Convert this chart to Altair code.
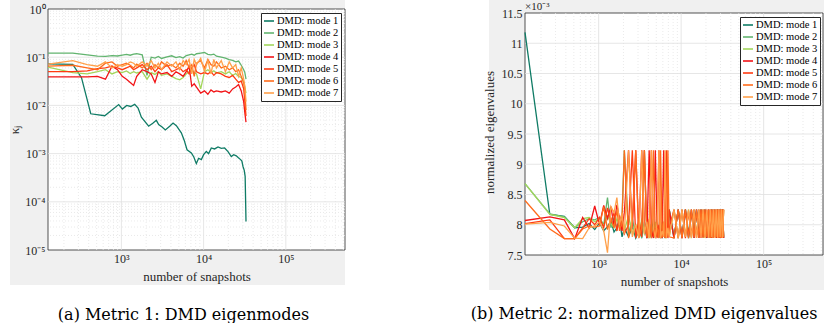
import altair as alt
import pandas as pd

SERIES = ["DMD: mode 1", "DMD: mode 2", "DMD: mode 3", "DMD: mode 4",
          "DMD: mode 5", "DMD: mode 6", "DMD: mode 7"]
COLORS = ["#0f7b65", "#62b46f", "#a3d65c", "#f21417", "#ff3b12", "#ff6c1c", "#ffa04a"]

X_TICKS = [1000, 10000, 100000]

# ---------------- Metric 1 (left) ----------------
mode1_left_x = [128, 256, 327, 424, 627, 927, 1028, 1160, 1297, 1451, 1595, 1750, 2146, 2429,
                2662, 2838, 3100, 3425, 3865, 4250, 4660, 5357, 5800, 6284, 7090, 7600, 8150,
                8700, 9380, 10000, 10790, 11500, 12400, 13600, 14970, 16400, 18000, 19800,
                21700, 23200, 24950, 26500, 28170, 29200, 30130, 31200, 32000, 32768]
mode1_left_y = [0.073, 0.071, 0.0376, 0.0067, 0.0061, 0.0104, 0.0084, 0.0100, 0.0095, 0.0105,
                0.0088, 0.0057, 0.0037, 0.0043, 0.0049, 0.0040, 0.0036, 0.0031, 0.0037, 0.0043,
                0.0038, 0.0027, 0.0019, 0.0012, 0.00103, 0.00085, 0.00062, 0.00080, 0.00075,
                0.00095, 0.00111, 0.00100, 0.00131, 0.00125, 0.00137, 0.00128, 0.00131, 0.0011,
                0.00087, 0.00095, 0.0009, 0.00082, 0.00075, 0.0007, 0.00054, 0.00045, 0.000337,
                0.0000392]

left_x = [128, 256, 384, 512, 640, 768, 896, 1024, 1152, 1280, 1408, 1536,
          1792, 2048, 2304, 2560, 2816, 3072,
          3584, 4096, 4608, 5120, 5632, 6144, 6656, 7168, 7680, 8192,
          9216, 10240, 11264, 12288, 13312, 14336,
          16384, 18432, 20480, 22528, 24576, 26624, 28672,
          30720, 31744, 32768]
mode2_left = [0.122, 0.122, 0.112, 0.105, 0.104, 0.108, 0.106, 0.110, 0.114, 0.110, 0.116, 0.118,
              0.112, 0.042, 0.100, 0.096, 0.104, 0.094,
              0.102, 0.107, 0.098, 0.103, 0.096, 0.108, 0.112, 0.116, 0.110, 0.118,
              0.122, 0.125, 0.115, 0.112, 0.116, 0.105,
              0.100, 0.096, 0.089, 0.086, 0.080, 0.083, 0.068,
              0.055, 0.048, 0.035]
mode3_left = [0.062, 0.048, 0.045, 0.050, 0.055, 0.045, 0.050, 0.048, 0.052, 0.046, 0.050, 0.047,
              0.050, 0.035, 0.048, 0.044, 0.050, 0.042,
              0.045, 0.040, 0.036, 0.034, 0.038, 0.045, 0.050, 0.055, 0.048, 0.045,
              0.022, 0.050, 0.055, 0.048, 0.052, 0.047,
              0.050, 0.045, 0.050, 0.042, 0.046, 0.040, 0.038,
              0.030, 0.024, 0.018]
mode4_left = [0.039, 0.039, 0.039, 0.040, 0.035, 0.065, 0.055, 0.040, 0.035, 0.030, 0.026, 0.040,
              0.055, 0.050, 0.045, 0.030, 0.050, 0.045,
              0.048, 0.040, 0.050, 0.045, 0.040, 0.050, 0.065, 0.025, 0.028, 0.024,
              0.018, 0.020, 0.017, 0.021, 0.019, 0.020,
              0.019, 0.020, 0.018, 0.022, 0.024, 0.027, 0.020,
              0.012, 0.007, 0.0045]
mode5_left = [0.050, 0.050, 0.052, 0.058, 0.060, 0.065, 0.060, 0.055, 0.060, 0.065, 0.055, 0.060,
              0.070, 0.055, 0.065, 0.050, 0.060, 0.055,
              0.070, 0.050, 0.055, 0.060, 0.050, 0.055, 0.045, 0.060, 0.070, 0.050,
              0.045, 0.048, 0.045, 0.050, 0.042, 0.048,
              0.045, 0.040, 0.038, 0.042, 0.035, 0.030, 0.032,
              0.022, 0.012, 0.006]
mode6_left = [0.065, 0.068, 0.060, 0.055, 0.075, 0.080, 0.065, 0.070, 0.075, 0.068, 0.060, 0.072,
              0.060, 0.075, 0.055, 0.070, 0.060, 0.080,
              0.065, 0.070, 0.060, 0.075, 0.065, 0.085, 0.060, 0.070, 0.040, 0.075,
              0.085, 0.060, 0.090, 0.070, 0.065, 0.080,
              0.060, 0.065, 0.055, 0.060, 0.050, 0.055, 0.040,
              0.030, 0.020, 0.008]
mode7_left = [0.072, 0.085, 0.070, 0.065, 0.080, 0.060, 0.070, 0.065, 0.070, 0.080, 0.075, 0.065,
              0.080, 0.065, 0.085, 0.060, 0.075, 0.055,
              0.080, 0.065, 0.080, 0.055, 0.085, 0.070, 0.090, 0.045, 0.090, 0.070,
              0.095, 0.050, 0.085, 0.045, 0.090, 0.060,
              0.085, 0.050, 0.080, 0.060, 0.070, 0.040, 0.060,
              0.035, 0.025, 0.012]

# ---------------- Metric 2 (right, values x 1e-3) ----------------
right_x = [128, 256, 384, 512, 640, 768, 896, 1024, 1152, 1280, 1408, 1536, 1664, 1792, 1920, 2048,
           2304, 2560, 2816, 3072, 3328, 3584, 3840, 4096, 4352, 4608, 4864, 5120, 5376, 5632,
           5888, 6144, 6400, 6656, 6912, 7168,
           8192, 9216, 10240, 11264, 12288, 13312, 14336, 15360, 16384, 17408, 18432, 19456,
           20480, 21504, 22528, 23552, 24576, 25600, 26624, 27648, 28672, 29696, 30720, 31744,
           32768]
mode1_right = [11.18, 8.17, 8.14, 7.95, 7.96, 8.02, 7.92, 8.03, 7.90, 7.97, 8.06, 7.88, 7.95, 8.10, 7.80, 7.95,
               7.80, 7.97, 7.78, 7.90, 7.80, 8.05, 7.78, 7.95, 7.80, 8.10, 7.78, 7.92, 7.80, 8.00,
               7.78, 7.95, 7.78, 8.05, 7.80, 8.25,
               7.78, 8.25, 7.80, 8.25, 7.78, 8.20, 7.95, 8.25, 7.78, 8.25, 7.82, 8.25, 7.78, 8.10,
               7.80, 8.25, 7.78, 8.25, 7.90, 8.25, 7.78, 8.25, 7.80, 8.25, 7.78]
mode2_right = [8.68, 8.18, 8.13, 7.95, 8.05, 8.10, 8.08, 8.12, 8.00, 8.45, 7.95, 8.12, 7.92, 8.05, 8.15, 9.23,
               7.85, 8.10, 7.80, 8.00, 7.78, 9.23, 7.82, 8.05, 7.78, 7.95, 7.80, 8.10, 7.78, 7.90,
               7.80, 8.05, 7.78, 7.95, 7.80, 8.25,
               7.80, 8.25, 7.78, 8.25, 7.85, 8.25, 7.78, 8.22, 7.80, 8.25, 7.78, 8.25, 7.95, 8.25,
               7.78, 8.25, 7.80, 8.20, 7.78, 8.25, 7.80, 8.25, 7.78, 8.25, 7.80]
mode3_right = [8.68, 8.17, 8.12, 7.95, 8.10, 8.12, 8.05, 8.10, 7.98, 8.15, 8.02, 7.95, 8.10, 7.98, 8.05, 7.90,
               8.15, 7.85, 8.00, 7.80, 8.10, 7.85, 7.95, 7.78, 8.00, 7.85, 8.05, 7.80, 7.95, 7.78,
               8.05, 7.80, 7.95, 7.78, 8.00, 7.80,
               8.25, 7.78, 8.25, 7.80, 8.25, 7.78, 8.25, 7.80, 8.25, 7.85, 8.25, 7.78, 8.20, 7.80,
               8.25, 7.78, 8.25, 7.80, 8.25, 7.78, 8.25, 7.80, 8.25, 7.78, 8.25]
mode4_right = [8.07, 8.13, 8.08, 7.77, 8.12, 7.95, 8.31, 8.00, 8.32, 8.10, 8.30, 7.98, 8.33, 8.10, 7.90, 8.20,
               9.23, 7.95, 9.23, 7.80, 9.23, 8.05, 7.78, 9.23, 7.90, 7.78, 9.23, 7.85, 8.00, 7.78,
               7.95, 9.23, 7.80, 8.10, 7.78, 8.25,
               7.78, 8.25, 7.78, 8.25, 7.80, 8.25, 7.78, 8.25, 7.78, 8.25, 7.80, 8.25, 7.78, 8.25,
               7.78, 8.25, 7.80, 8.25, 7.78, 8.25, 7.78, 8.25, 7.80, 8.25, 7.78]
mode5_right = [8.02, 8.08, 7.77, 7.77, 7.95, 8.10, 8.00, 8.12, 7.95, 8.28, 8.05, 8.20, 7.90, 8.15, 8.00, 7.85,
               8.00, 9.23, 7.78, 8.10, 7.80, 9.23, 7.78, 8.00, 9.23, 7.80, 7.95, 7.78, 9.23, 7.85,
               7.78, 8.05, 7.78, 9.23, 7.80, 7.95,
               8.25, 7.78, 8.25, 7.78, 8.22, 7.80, 8.25, 7.78, 8.25, 7.78, 8.25, 7.80, 8.25, 7.78,
               8.25, 7.78, 8.25, 7.80, 8.25, 7.78, 8.25, 7.78, 8.25, 7.80, 8.25]
mode6_right = [8.40, 7.93, 7.77, 7.77, 7.93, 7.98, 7.96, 7.98, 8.30, 7.92, 8.10, 7.95, 8.25, 7.90, 8.05, 9.23,
               7.78, 8.05, 9.23, 7.78, 7.95, 9.23, 7.80, 8.10, 7.78, 9.23, 7.80, 7.95, 7.78, 9.23,
               7.80, 8.05, 7.78, 7.95, 9.23, 7.80,
               7.78, 8.25, 7.78, 8.25, 7.78, 8.25, 7.80, 8.25, 7.78, 8.25, 7.78, 8.25, 7.80, 8.25,
               7.78, 8.25, 7.78, 8.25, 7.80, 8.25, 7.78, 8.25, 7.78, 8.25, 7.80]
mode7_right = [8.01, 8.04, 7.98, 7.78, 7.77, 7.95, 7.98, 8.05, 7.90, 7.54, 8.30, 8.20, 8.45, 8.00, 8.20, 7.85,
               9.23, 7.80, 8.00, 7.78, 9.23, 7.85, 8.05, 7.78, 9.23, 7.95, 7.78, 8.05, 9.23, 7.78,
               7.90, 7.80, 9.23, 7.78, 7.95, 7.80,
               8.25, 7.78, 8.25, 7.80, 8.25, 7.78, 8.25, 7.78, 8.25, 7.80, 8.25, 7.78, 8.25, 7.78,
               8.25, 7.80, 8.25, 7.78, 8.25, 7.78, 8.25, 7.80, 8.25, 7.78, 8.25]

# ---------------- build tables ----------------
rows = [dict(x=x, y=y, s=SERIES[0]) for x, y in zip(mode1_left_x, mode1_left_y)]
for name, vals in zip(SERIES[1:], [mode2_left, mode3_left, mode4_left, mode5_left,
                                   mode6_left, mode7_left]):
    rows += [dict(x=x, y=y, s=name) for x, y in zip(left_x, vals)]
df_left = pd.DataFrame(rows)

rows = []
for name, vals in zip(SERIES, [mode1_right, mode2_right, mode3_right, mode4_right,
                               mode5_right, mode6_right, mode7_right]):
    rows += [dict(x=x, y=y, s=name) for x, y in zip(right_x, vals)]
df_right = pd.DataFrame(rows)

one = pd.DataFrame({"k": [0]})

# grid positions
x_minor = [k * 10 ** e for e in range(2, 6) for k in range(2, 10) if 128 < k * 10 ** e < 524288]
ly_major = [1e-4, 1e-3, 1e-2, 1e-1]
ly_minor = [k * 10.0 ** e for e in range(-5, 0) for k in range(2, 10)]
ry_grid = [8.0, 8.5, 9.0, 9.5, 10.0, 10.5, 11.0]
ry_ticks = [7.5, 8.0, 8.5, 9.0, 9.5, 10.0, 10.5, 11.0, 11.5]

FONT = "Liberation Serif"
INK = "#262626"
GREY = "#f0f0f0"
MAJ = "#e0e0e0"
MIN = "#e4e4e4"

# geometry
LW, LH = 297, 241
RW, RH = 298, 246
R_TOP = 4  # right plot box starts 4px below aligned view top
R_YMAX = 11.5 + R_TOP * 4.0 / (RH - R_TOP)

lx = alt.Scale(type="log", domain=[128, 524288], nice=False)
ly = alt.Scale(type="log", domain=[1e-5, 1], nice=False)
rx = alt.Scale(type="log", domain=[128, 524288], nice=False)
ry = alt.Scale(domain=[7.5, R_YMAX], nice=False, zero=False)
color_scale = alt.Scale(domain=SERIES, range=COLORS)

X_LABELS = "'10' + (datum.value < 5000 ? '\u00b3' : datum.value < 50000 ? '\u2074' : '\u2075')"
LY_LABELS = ("datum.value > 0.5 ? '10\u2070' : datum.value > 0.05 ? '10\u207b\u00b9' : "
             "datum.value > 0.005 ? '10\u207b\u00b2' : datum.value > 0.0005 ? '10\u207b\u00b3' : "
             "datum.value > 0.00005 ? '10\u207b\u2074' : '10\u207b\u2075'")

COMMON = dict(grid=False, ticks=False, domain=False, labelFont=FONT, labelFontSize=12,
              labelColor=INK, titleFont=FONT, titleFontSize=13, titleFontWeight="normal",
              titleColor=INK, zindex=1)

X_AXIS = alt.Axis(values=X_TICKS, labelExpr=X_LABELS, title="number of snapshots",
                  labelPadding=3, titlePadding=6, **COMMON)
LY_AXIS = alt.Axis(values=[1e-5, 1e-4, 1e-3, 1e-2, 1e-1, 1], labelExpr=LY_LABELS,
                   title="\u03ba\u2c7c", labelPadding=3, titlePadding=3, **COMMON)
RY_AXIS = alt.Axis(values=ry_ticks, format="~g", title="normalized eigenvalues",
                   labelPadding=3, titlePadding=5, **COMMON)

LEG = dict(title=None, fillColor="white", strokeColor=INK, padding=2, labelFont=FONT,
           labelFontSize=10.5, labelColor="black", symbolType="stroke", symbolStrokeWidth=1.6,
           symbolSize=100, rowPadding=0, labelOffset=2, zindex=2)


def vrules(vals, scale, axis, color, dash=None, y0=None, y1=None):
    mk = dict(color=color, strokeWidth=0.8)
    if dash:
        mk["strokeDash"] = dash
    enc = dict(x=alt.X("v:Q", scale=scale, axis=axis))
    if y0 is not None:
        enc["y"] = alt.value(y0)
        enc["y2"] = alt.value(y1)
    return alt.Chart(pd.DataFrame({"v": vals})).mark_rule(**mk).encode(**enc)


def hrules(vals, scale, axis, color, dash=None):
    mk = dict(color=color, strokeWidth=0.8)
    if dash:
        mk["strokeDash"] = dash
    return alt.Chart(pd.DataFrame({"v": vals})).mark_rule(**mk).encode(
        y=alt.Y("v:Q", scale=scale, axis=axis))


# ---------------- left chart ----------------
l_bg = alt.Chart(one).mark_rect(color=GREY).encode(
    x=alt.value(-38), x2=alt.value(LW), y=alt.value(-9), y2=alt.value(276))
l_panel = alt.Chart(one).mark_rect(fill="white", stroke=INK, strokeWidth=0.8).encode(
    x=alt.value(0), x2=alt.value(LW), y=alt.value(0), y2=alt.value(LH))
l_lines = alt.Chart(df_left).mark_line(strokeWidth=1.3).encode(
    x=alt.X("x:Q", scale=lx, axis=X_AXIS),
    y=alt.Y("y:Q", scale=ly, axis=LY_AXIS),
    color=alt.Color("s:N", scale=color_scale,
                    legend=alt.Legend(orient="top-right", offset=4, **LEG)),
)
left = alt.layer(
    l_bg, l_panel,
    vrules(x_minor, lx, X_AXIS, MIN, [1, 2]), vrules(X_TICKS, lx, X_AXIS, MAJ),
    hrules(ly_minor, ly, LY_AXIS, MIN, [1, 2]), hrules(ly_major, ly, LY_AXIS, MAJ),
    l_lines,
).properties(
    width=LW, height=LH,
    title=alt.TitleParams("(a) Metric 1: DMD eigenmodes", orient="bottom", anchor="middle",
                          font="DejaVu Serif", fontSize=16, fontWeight="normal", color="black",
                          offset=22, dx=-13),
)

# ---------------- right chart ----------------
r_bg = alt.Chart(one).mark_rect(color=GREY).encode(
    x=alt.value(-36), x2=alt.value(RW + 1), y=alt.value(-9), y2=alt.value(281))
r_panel = alt.Chart(one).mark_rect(fill="white", stroke=INK, strokeWidth=0.8).encode(
    x=alt.value(0), x2=alt.value(RW), y=alt.value(R_TOP), y2=alt.value(RH))
r_exp = alt.Chart(one).mark_text(align="left", baseline="bottom", font=FONT, fontSize=11,
                                 color=INK).encode(
    x=alt.value(0), y=alt.value(R_TOP - 1), text=alt.value("\u00d710\u207b\u00b3"))
r_lines = alt.Chart(df_right).mark_line(strokeWidth=1.3).encode(
    x=alt.X("x:Q", scale=rx, axis=X_AXIS),
    y=alt.Y("y:Q", scale=ry, axis=RY_AXIS),
    color=alt.Color("s:N", scale=color_scale,
                    legend=alt.Legend(orient="none", legendX=215, legendY=8, **LEG)),
)
right = alt.layer(
    r_bg, r_panel,
    vrules(x_minor, rx, X_AXIS, MIN, [1, 2], R_TOP, RH),
    vrules(X_TICKS, rx, X_AXIS, MAJ, None, R_TOP, RH),
    hrules(ry_grid, ry, RY_AXIS, MAJ),
    r_lines, r_exp,
).properties(
    width=RW, height=RH,
    title=alt.TitleParams("(b) Metric 2: normalized DMD eigenvalues", orient="bottom",
                          anchor="middle", font="DejaVu Serif", fontSize=16,
                          fontWeight="normal", color="black", offset=16, dx=-30),
)

chart = alt.hconcat(left, right, spacing=180, bounds="flush").resolve_scale(
    color="independent").resolve_legend(color="independent").properties(
    padding={"left": 8, "top": 0, "right": 0, "bottom": 0}, background="white",
).configure_view(strokeWidth=0)

chart.save("out.html", embed_options={"renderer": "svg", "actions": False})
